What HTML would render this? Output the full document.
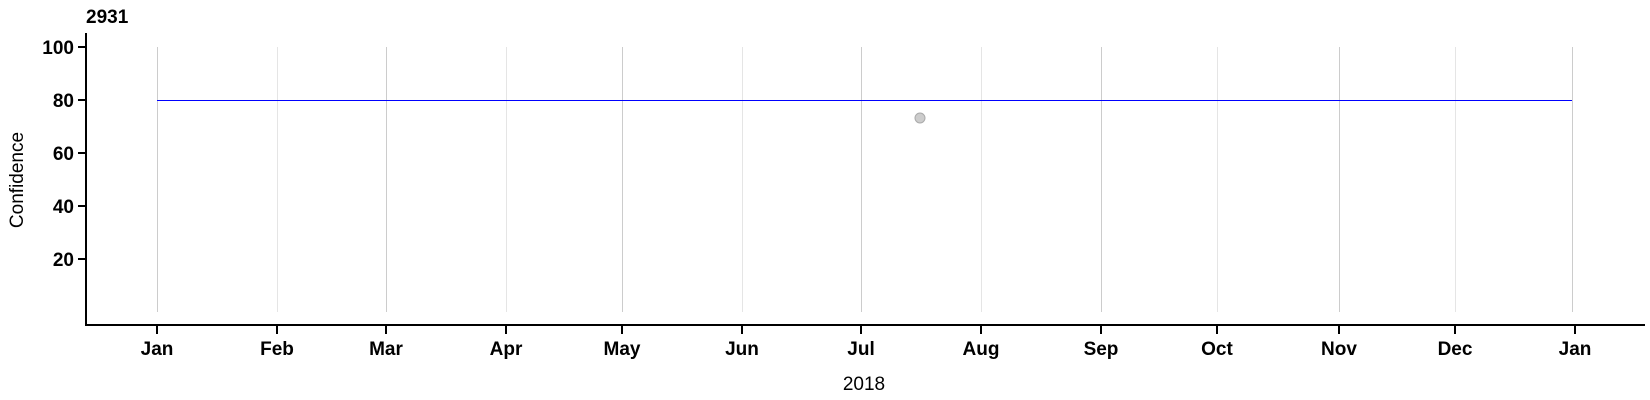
<!DOCTYPE html>
<html><head><meta charset="utf-8"><style>html,body{margin:0;padding:0;background:#fff}svg{display:block}</style></head>
<body>
<svg width="1650" height="400" xmlns="http://www.w3.org/2000/svg" font-family="Liberation Sans, Arial, sans-serif">
<rect width="1650" height="400" fill="#fff"/>
<g stroke-width="1">
<line x1="157.5" y1="47" x2="157.5" y2="312" stroke="#cccccc"/>
<line x1="277.5" y1="47" x2="277.5" y2="312" stroke="#e5e5e5"/>
<line x1="386.5" y1="47" x2="386.5" y2="312" stroke="#cccccc"/>
<line x1="506.5" y1="47" x2="506.5" y2="312" stroke="#e5e5e5"/>
<line x1="622.5" y1="47" x2="622.5" y2="312" stroke="#cccccc"/>
<line x1="742.5" y1="47" x2="742.5" y2="312" stroke="#e5e5e5"/>
<line x1="861.5" y1="47" x2="861.5" y2="312" stroke="#cccccc"/>
<line x1="981.5" y1="47" x2="981.5" y2="312" stroke="#e5e5e5"/>
<line x1="1101.5" y1="47" x2="1101.5" y2="312" stroke="#cccccc"/>
<line x1="1217.5" y1="47" x2="1217.5" y2="312" stroke="#e5e5e5"/>
<line x1="1339.5" y1="47" x2="1339.5" y2="312" stroke="#cccccc"/>
<line x1="1455.5" y1="47" x2="1455.5" y2="312" stroke="#e5e5e5"/>
<line x1="1572.5" y1="47" x2="1572.5" y2="312" stroke="#cccccc"/>
</g>
<line x1="157" y1="100.5" x2="1572" y2="100.5" stroke="#0000ff" stroke-width="1"/>
<circle cx="920" cy="118" r="5" fill="#cccccc" stroke="#aaaaaa" stroke-width="1"/>
<g stroke="#000" stroke-width="2">
<line x1="86" y1="33" x2="86" y2="326"/>
<line x1="85" y1="325" x2="1645" y2="325"/>
<line x1="78" y1="47" x2="86" y2="47"/>
<line x1="78" y1="100" x2="86" y2="100"/>
<line x1="78" y1="153" x2="86" y2="153"/>
<line x1="78" y1="206" x2="86" y2="206"/>
<line x1="78" y1="259" x2="86" y2="259"/>
<line x1="157" y1="325" x2="157" y2="334"/>
<line x1="277" y1="325" x2="277" y2="334"/>
<line x1="386" y1="325" x2="386" y2="334"/>
<line x1="506" y1="325" x2="506" y2="334"/>
<line x1="622" y1="325" x2="622" y2="334"/>
<line x1="742" y1="325" x2="742" y2="334"/>
<line x1="861" y1="325" x2="861" y2="334"/>
<line x1="981" y1="325" x2="981" y2="334"/>
<line x1="1101" y1="325" x2="1101" y2="334"/>
<line x1="1217" y1="325" x2="1217" y2="334"/>
<line x1="1339" y1="325" x2="1339" y2="334"/>
<line x1="1455" y1="325" x2="1455" y2="334"/>
<line x1="1575" y1="325" x2="1575" y2="334"/>
</g>
<text x="86" y="23" font-size="19" font-weight="bold">2931</text>
<g font-size="19" font-weight="bold" text-anchor="end">
<text x="74" y="54">100</text>
<text x="74" y="107">80</text>
<text x="74" y="160">60</text>
<text x="74" y="213">40</text>
<text x="74" y="266">20</text>
</g>
<g font-size="19" font-weight="bold" text-anchor="middle">
<text x="157" y="355">Jan</text>
<text x="277" y="355">Feb</text>
<text x="386" y="355">Mar</text>
<text x="506" y="355">Apr</text>
<text x="622" y="355">May</text>
<text x="742" y="355">Jun</text>
<text x="861" y="355">Jul</text>
<text x="981" y="355">Aug</text>
<text x="1101" y="355">Sep</text>
<text x="1217" y="355">Oct</text>
<text x="1339" y="355">Nov</text>
<text x="1455" y="355">Dec</text>
<text x="1575" y="355">Jan</text>
</g>
<text x="864" y="390" font-size="19" text-anchor="middle">2018</text>
<text transform="translate(23,180) rotate(-90)" font-size="19" text-anchor="middle">Confidence</text>
</svg>
</body></html>
